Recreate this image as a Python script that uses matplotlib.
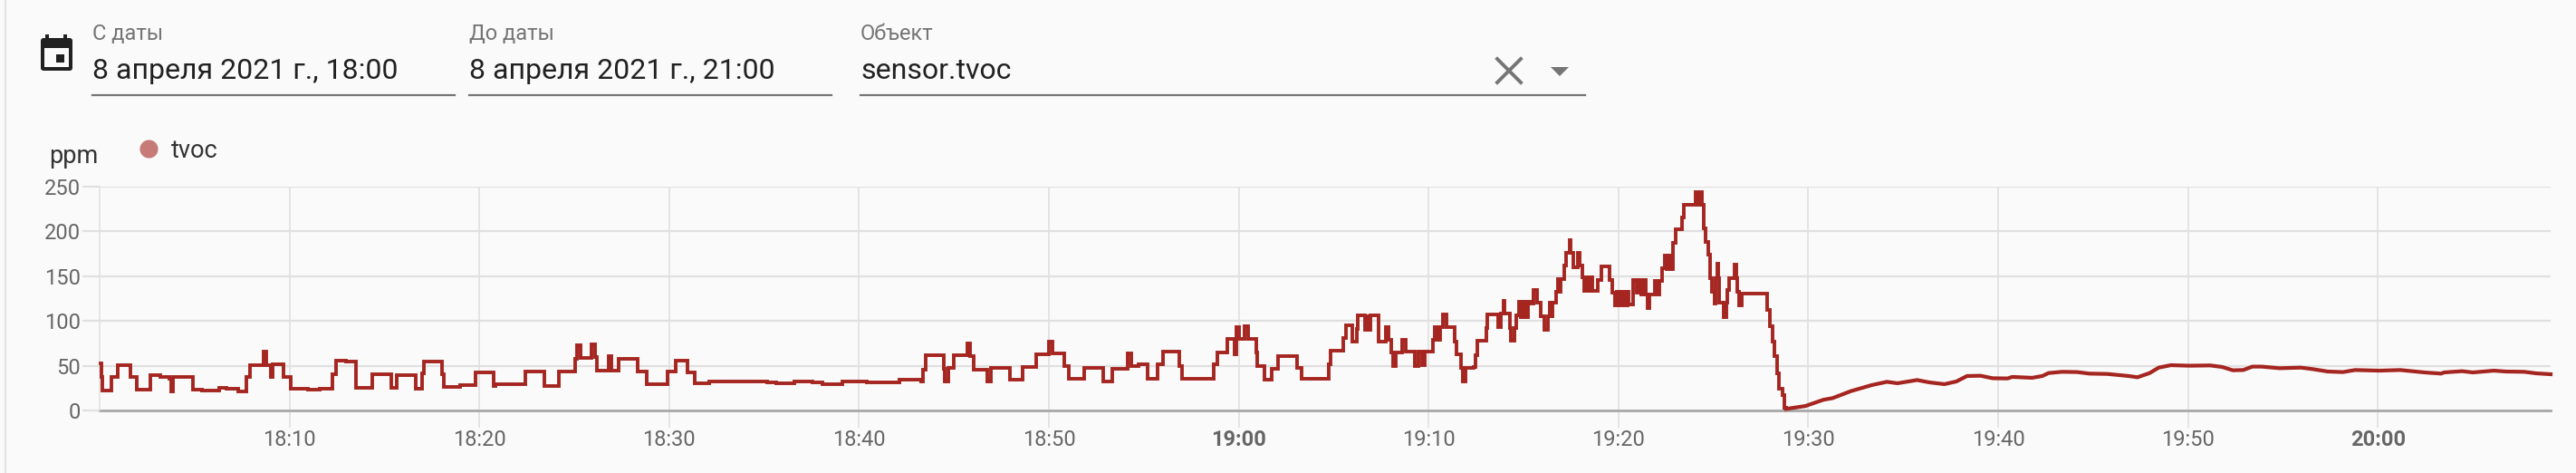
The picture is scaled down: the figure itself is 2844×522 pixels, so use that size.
import matplotlib
matplotlib.use("Agg")
import matplotlib.pyplot as plt
from matplotlib.patches import Rectangle, FancyBboxPatch, Polygon
from matplotlib.lines import Line2D

W, H = 2844, 522
BG = "#fafafa"
LINE = "#a52520"

# minutes after 18:00, stepped part of the tvoc series
step_t = [0.05, 0.08, 0.16, 0.6, 0.95, 1.64, 1.96, 2.67, 3.2, 3.69, 3.75, 3.85, 4.9, 5.41, 6.28, 6.68, 7.32,
          7.71, 7.9, 8.62, 8.78, 9.02, 9.11, 9.67, 10.07, 10.97, 11.6, 12.25, 12.44, 13.0, 13.5, 14.35, 15.38,
          15.66, 16.67, 16.99, 17.1, 18.05, 18.13, 19.0, 19.8, 20.75, 20.83, 21.5, 22.42,
          23.41, 24.17, 25.04, 25.12, 25.31, 25.89, 26.11, 26.2, 26.79, 26.95, 27.35, 28.35, 28.83, 29.89,
          30.32, 30.96, 31.36, 32.12, 33.87, 35.14, 35.62, 36.57, 37.53, 38.08, 39.12, 40.39, 41.35, 42.14,
          42.78, 43.25, 43.38, 43.49, 44.45, 44.49, 44.72, 45.0, 45.72, 45.85, 46.04, 46.75, 46.96, 47.95,
          48.61, 49.35, 50.01, 50.17, 50.81, 51.05, 51.84, 52.88, 53.32, 54.15, 54.36, 54.7, 55.18, 55.74,
          56.01, 56.85, 57.01, 58.68, 58.87, 59.4, 59.8, 59.87, 60.0, 60.3, 60.51, 60.91, 60.99, 61.34,
          61.73, 62.05, 63.09, 63.29, 64.76, 64.85, 65.49, 65.63, 65.97, 66.2, 66.28, 66.63, 66.73, 66.83,
          66.92, 67.38, 67.75, 67.91, 68.03, 68.14, 68.26, 68.59, 68.78, 69.26, 69.46, 69.66, 69.81, 70.24,
          70.34, 70.48, 70.61, 70.77, 70.96, 71.37, 71.45, 71.72, 71.8, 71.96, 72.39, 72.47, 72.56, 73.03,
          73.09, 73.66, 73.82, 73.95, 74.0, 74.27, 74.31, 74.5, 74.62, 74.74, 74.86, 74.98, 75.1, 75.22,
          75.38, 75.54, 75.73, 75.9, 76.1, 76.29, 76.38, 76.46, 76.54, 76.73, 76.81, 76.89, 76.97, 77.13,
          77.26, 77.42, 77.48, 77.61, 77.84, 77.96, 78.08, 78.2, 78.32, 78.44, 78.56, 78.64, 78.91, 79.12,
          79.51, 79.67, 79.8, 79.93, 80.06, 80.19, 80.32, 80.47, 80.55, 80.79, 80.95, 81.08, 81.21, 81.34,
          81.42, 81.55, 81.63, 81.9, 82.06, 82.17, 82.3, 82.42, 82.54, 82.66, 82.77, 82.85, 83.01, 83.36,
          83.43, 84.05, 84.17, 84.29, 84.4, 84.48, 84.6, 84.73, 84.81, 84.92, 85.05, 85.13, 85.19, 85.25,
          85.3, 85.53, 85.67, 85.75, 85.84, 86.11, 86.2, 86.28, 86.35, 86.51, 87.83, 87.99, 88.13, 88.21,
          88.37, 88.45, 88.66, 88.74]
step_v = [53, 37, 22.6, 37.5, 51, 37.5, 23, 39, 37, 35, 21.6, 37.5, 23, 22.6, 25, 24, 21,
          37, 51, 65.5, 51, 37, 52, 37.5, 24, 23, 24.5, 40, 55.7, 55, 25, 40, 25,
          39.5, 24.6, 41, 55, 40, 26.7, 28, 43, 27, 29, 29, 44,
          27, 44, 58, 73, 58.7, 74, 59.7, 45, 60.4, 45, 58, 44, 29, 43.5,
          56, 42.5, 30.7, 32.7, 32.4, 31, 30.7, 32.7, 31, 29.7, 32.7, 31.2, 31.8, 34,
          34.4, 32.4, 46, 61.4, 47, 32.7, 47.6, 61.4, 75, 60.4, 46, 32.7, 47.6, 34.4,
          48.6, 62.8, 77, 64, 49.6, 35, 47.6, 32.7, 46.6, 63.8, 49.6, 52, 35.8, 52,
          66, 50, 35, 52, 65, 79.6, 62.8, 93.5, 80, 94, 79.6, 64.4, 50, 34.4,
          47, 60.5, 48, 35.8, 52, 67, 80.6, 95, 77, 91.4, 106, 90, 105, 90,
          106, 77, 93.5, 79, 64.5, 49.6, 64.5, 79, 65.5, 50, 65.5, 51, 65.5, 79,
          93.5, 79, 93.5, 107.6, 93.5, 76.6, 63, 47.6, 32.7, 47.6, 48.5, 62, 78, 92.4,
          107.5, 93, 108.6, 122.7, 108.6, 92.4, 78, 92.4, 106.5, 121.7, 104, 121, 104, 121, 119.4,
          134.5, 120, 105, 90, 105, 120, 105, 120, 133, 147, 133, 147, 161.5, 176,
          190.5, 176, 160, 176, 161.5, 149, 134, 149, 134, 149, 134, 146, 160.5, 146,
          132, 117, 133, 117, 133, 117, 133, 118, 146, 132, 146, 130, 146, 130,
          114, 130, 144.7, 130, 145, 159, 173, 157.5, 173, 157.5, 187, 202, 215.5,
          229.7, 244, 229.7, 244, 229.7, 203.7, 188.5, 174, 148, 133, 119, 148, 164, 148,
          120.4, 104, 120.4, 134.5, 148, 163, 148, 133, 117.7, 131, 112.6, 94, 77, 61,
          41.7, 23.9, 17.5, 3]

# smooth part after the drop
tail_t = [88.82, 89.85, 90.8, 91.28, 92.24, 93.35, 94.14, 94.7, 95.73, 96.37, 97.17, 97.8, 98.36, 99.07, 99.71,
          100.5, 100.74, 101.78, 102.33, 102.65, 103.37, 104.16, 104.8, 105.75, 106.87, 107.34, 107.98, 108.46,
          109.1, 110.05, 111.17, 111.8, 112.36, 112.91, 113.39, 113.87, 114.82, 115.94, 116.57, 117.37, 118.16,
          118.8, 120.07, 121.18, 122.46, 123.33, 123.49, 124.44, 125.0, 126.11, 126.75, 127.7, 128.34, 129.1]
tail_v = [1.7, 5, 12, 13.8, 21.6, 28.4, 32, 30.4, 34, 31.4, 29.4, 32.4, 38.5, 38.8, 36,
          35.8, 37.5, 36.5, 38.5, 41.8, 43.2, 42.9, 41.2, 40.8, 38.5, 37.1, 41.8, 47.9,
          50.6, 50, 50.3, 48.6, 44.9, 45.2, 49, 49, 47.2, 47.9, 46.2, 43.5, 42.9,
          45.2, 44.5, 45.2, 42.5, 41.2, 42.5, 43.9, 42.5, 44.5, 43.5, 43.2, 41.5, 40.5]

x_ticks = [10, 20, 30, 40, 50, 60, 70, 80, 90, 100, 110, 120]
x_labels = ["18:10", "18:20", "18:30", "18:40", "18:50", "19:00", "19:10", "19:20", "19:30", "19:40", "19:50", "20:00"]
y_ticks = [0, 50, 100, 150, 200, 250]

plt.rcParams['font.family'] = ['Roboto', 'DejaVu Sans']

fig = plt.figure(figsize=(W / 100, H / 100), dpi=100, facecolor=BG)


def fx(px):
    return px / W


def fy(py):
    return 1 - py / H


def label(px, py, s, size, color, **kw):
    fig.text(fx(px), fy(py), s, fontsize=size, color=color, va='center', **kw)


ax = fig.add_axes([fx(110), fy(453), fx(2816) - fx(110), fy(206) - fy(453)])
ax.set_facecolor(BG)
ax.set_xlim(0, 129.1)
ax.set_ylim(0, 250)
ax.grid(axis='x', color='#dedede', lw=1.1)
ax.grid(axis='y', color='#e0e0e0', lw=1.6)
ax.set_axisbelow(True)
for name in ['top', 'right', 'bottom']:
    ax.spines[name].set_visible(False)
ax.spines['left'].set_color('#e0e0e0')
ax.spines['left'].set_linewidth(1.1)
ax.axhline(0, color='#a8a8a8', lw=2, clip_on=False, zorder=2)

ax.set_xticks(x_ticks)
ax.set_xticklabels(x_labels)
ax.set_yticks(y_ticks)
ax.tick_params(axis='x', length=14, width=1.1, color='#dedede', labelcolor='#666666', labelsize=17, pad=1)
ax.tick_params(axis='y', length=14, width=1.6, color='#e0e0e0', labelcolor='#666666', labelsize=17, pad=1)
for t in ax.get_xticklabels():
    if t.get_text() in ("19:00", "20:00"):
        t.set_fontweight('bold')

ax.plot(step_t + [tail_t[0]], step_v + [step_v[-1]], drawstyle='steps-post', color=LINE, lw=2.8,
        solid_joinstyle='miter', clip_on=False, zorder=3)
ax.plot(tail_t, tail_v, color=LINE, lw=3.0, clip_on=False, zorder=3)
ax.plot([tail_t[0], tail_t[0]], [step_v[-1], tail_v[0]], color=LINE, lw=2.8, clip_on=False, zorder=3)

# header fields
label(102, 38, "С даты", 17, '#757575')
label(518, 38, "До даты", 17, '#757575')
label(950, 38, "Объект", 17, '#757575')
label(102, 79, "8 апреля 2021 г., 18:00", 23, '#212121')
label(518, 79, "8 апреля 2021 г., 21:00", 23, '#212121')
label(950, 79, "sensor.tvoc", 23, '#212121')

for x0, x1 in [(102, 502), (518, 918), (950, 1750)]:
    fig.add_artist(Line2D([fx(x0), fx(x1)], [fy(105), fy(105)], color='#757575', lw=1.6))

# clear button and dropdown arrow
fig.add_artist(Line2D([fx(1653), fx(1679)], [fy(65), fy(91)], color='#757575', lw=2.8))
fig.add_artist(Line2D([fx(1653), fx(1679)], [fy(91), fy(65)], color='#757575', lw=2.8))
fig.add_artist(Polygon([[fx(1712), fy(74)], [fx(1732), fy(74)], [fx(1722), fy(84)]], closed=True,
                       transform=fig.transFigure, color='#757575', lw=0))

# calendar icon
fig.add_artist(FancyBboxPatch((45, H - 78), 35, 36, boxstyle="round,pad=0,rounding_size=3",
                              transform=None, fc='#212121', ec='none'))
for x0, y0, w, h, c in [(50, 38, 4, 5, '#212121'), (70, 38, 4, 5, '#212121'),
                        (49, 53, 27, 21, BG), (62, 60, 9, 9, '#212121')]:
    fig.add_artist(Rectangle((x0, H - y0 - h), w, h, transform=None, fc=c, ec='none'))

# left edge of the card
fig.add_artist(Line2D([fx(6), fx(6)], [0, 1], color='#e4e4e4', lw=1.6))

# legend and unit
label(54, 172, "ppm", 19.5, '#333333')
fig.add_artist(Line2D([fx(164)], [fy(164)], marker='o', ms=14.5, color='#c77b78', mew=0, ls='none'))
label(189, 166, "tvoc", 19.5, '#333333')

fig.savefig("out.png", dpi=100, facecolor=BG)
